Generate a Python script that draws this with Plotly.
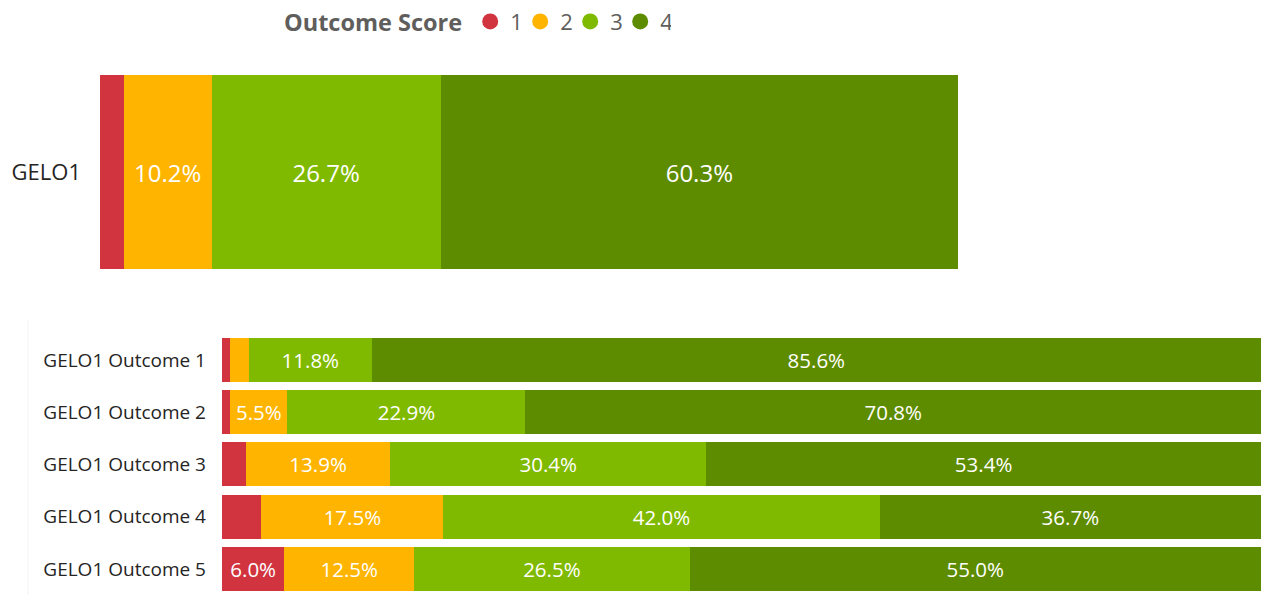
import plotly.graph_objects as go

W, H = 1261, 595

scores = ["1", "2", "3", "4"]
colors = ["#D1343F", "#FFB400", "#7FBA00", "#5E8C00"]

top_category = ["GELO1"]
top_values = {
    "1": [2.8],
    "2": [10.2],
    "3": [26.7],
    "4": [60.3],
}

outcome_categories = [
    "GELO1 Outcome 1",
    "GELO1 Outcome 2",
    "GELO1 Outcome 3",
    "GELO1 Outcome 4",
    "GELO1 Outcome 5",
]
outcome_values = {
    "1": [0.8, 0.8, 2.3, 3.8, 6.0],
    "2": [1.8, 5.5, 13.9, 17.5, 12.5],
    "3": [11.8, 22.9, 30.4, 42.0, 26.5],
    "4": [85.6, 70.8, 53.4, 36.7, 55.0],
}

FONT = "Open Sans"


def labels(vals, thr):
    return [f"{v:.1f}%" if v >= thr else "" for v in vals]


fig = go.Figure()

for s, c in zip(scores, colors):
    fig.add_trace(go.Bar(
        y=top_category, x=top_values[s], orientation="h",
        marker=dict(color=c, line=dict(width=0)),
        width=1.0,
        text=labels(top_values[s], 5), textposition="inside",
        insidetextanchor="middle",
        textfont=dict(color="white", size=24, family=FONT),
        xaxis="x", yaxis="y", showlegend=False, hoverinfo="x+y",
    ))

for s, c in zip(scores, colors):
    fig.add_trace(go.Bar(
        y=outcome_categories, x=outcome_values[s], orientation="h",
        marker=dict(color=c, line=dict(width=0)),
        width=0.84,
        text=labels(outcome_values[s], 5), textposition="inside",
        insidetextanchor="middle",
        textfont=dict(color="white", size=20.5, family=FONT),
        xaxis="x2", yaxis="y2", showlegend=False, hoverinfo="x+y",
    ))

# legend entries with circular markers
for s, c in zip(scores, colors):
    fig.add_trace(go.Scatter(
        x=[None], y=[None], mode="markers", name=s,
        marker=dict(color=c, size=19, symbol="circle"),
        xaxis="x", yaxis="y", showlegend=True,
    ))

fig.update_layout(
    width=W, height=H,
    margin=dict(l=0, r=0, t=0, b=0, autoexpand=False),
    paper_bgcolor="white", plot_bgcolor="white",
    barmode="stack",
    font=dict(family=FONT, color="#252423"),
    xaxis=dict(domain=[100 / W, 958 / W], range=[0, 100], visible=False,
               anchor="y", fixedrange=True, automargin=False),
    yaxis=dict(domain=[1 - 269 / H, 1 - 75 / H], range=[-0.5, 0.5],
               anchor="x", showgrid=False, zeroline=False, showline=False,
               ticks="", automargin=False, ticklabelstandoff=18,
               tickfont=dict(size=22, color="#252423", family=FONT)),
    xaxis2=dict(domain=[222 / W, 1.0], range=[0, 100], visible=False,
                anchor="y2", fixedrange=True, automargin=False),
    yaxis2=dict(domain=[0, 1 - 333.75 / H], autorange="reversed",
                anchor="x2", showgrid=False, zeroline=False, showline=False,
                ticks="", automargin=False, ticklabelstandoff=15,
                tickfont=dict(size=19, color="#252423", family=FONT)),
    legend=dict(
        orientation="h", x=282 / W, xanchor="left", y=0.999, yanchor="top",
        title=dict(text="<b>Outcome Score</b>",
                   font=dict(size=23.5, color="#605E5C", family=FONT)),
        font=dict(size=22, color="#605E5C", family=FONT),
        itemwidth=30, entrywidth=5, traceorder="normal",
        bgcolor="rgba(0,0,0,0)",
    ),
    shapes=[dict(type="line", xref="paper", yref="paper",
                 x0=28 / W, x1=28 / W, y0=0, y1=1 - 320 / H,
                 line=dict(color="#F3F3F3", width=1))],
)

fig.write_html("out.html",
               config={"displayModeBar": False},
               post_script="document.body.style.margin='0px';")
